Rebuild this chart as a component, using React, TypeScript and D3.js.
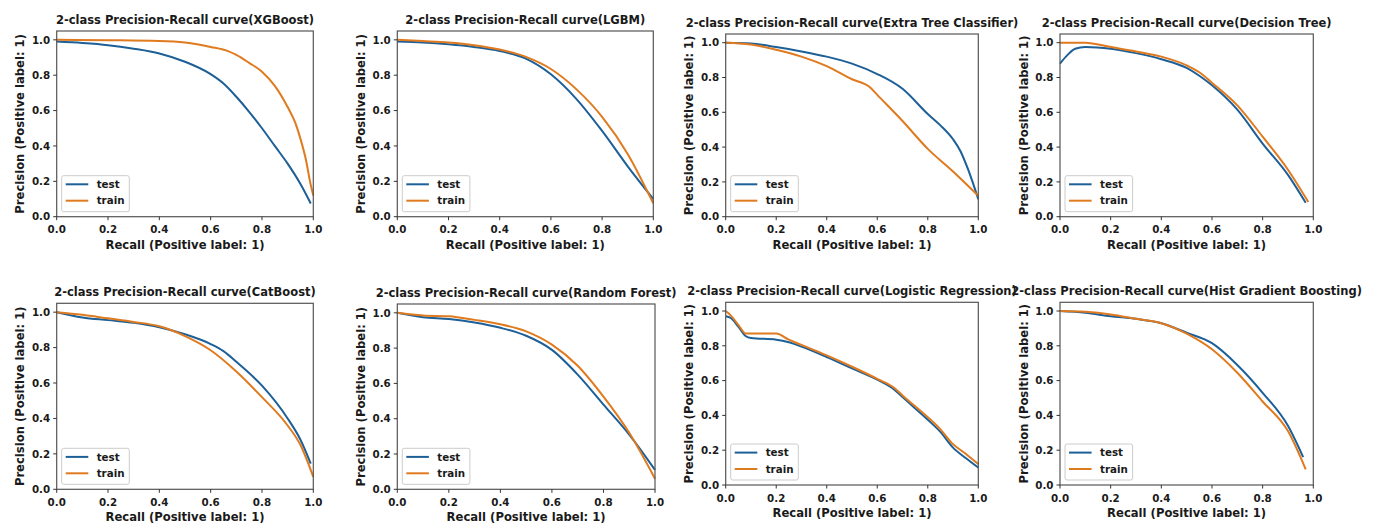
import React from "react";
import * as d3 from "d3";

type Pt = [number, number];

// ---- Data (recall, precision) ----
const modelNames = [
  "XGBoost",
  "LGBM",
  "Extra Tree Classifier",
  "Decision Tree",
  "CatBoost",
  "Random Forest",
  "Logistic Regression",
  "Hist Gradient Boosting",
];

const xgbTest: Pt[] = [[0,0.99],[0.1,0.982],[0.2,0.97],[0.3,0.95],[0.4,0.923],[0.5,0.876],[0.6,0.806],[0.65,0.753],[0.7,0.678],[0.75,0.593],[0.8,0.5],[0.85,0.4],[0.9,0.3],[0.95,0.185],[0.99,0.075]];
const xgbTrain: Pt[] = [[0,1.0],[0.2,0.998],[0.4,0.994],[0.5,0.985],[0.6,0.96],[0.67,0.935],[0.7,0.915],[0.75,0.87],[0.8,0.82],[0.85,0.74],[0.9,0.62],[0.93,0.53],[0.95,0.44],[0.97,0.33],[0.99,0.18],[1.0,0.12]];

const lgbmTest: Pt[] = [[0,0.99],[0.1,0.985],[0.2,0.975],[0.3,0.96],[0.4,0.937],[0.5,0.895],[0.6,0.805],[0.7,0.665],[0.8,0.485],[0.9,0.285],[1.0,0.1]];
const lgbmTrain: Pt[] = [[0,1.0],[0.1,0.993],[0.2,0.985],[0.3,0.97],[0.4,0.945],[0.5,0.905],[0.6,0.835],[0.7,0.72],[0.8,0.565],[0.9,0.355],[1.0,0.075]];

const etTest: Pt[] = [[0,1.0],[0.1,0.995],[0.2,0.975],[0.3,0.95],[0.4,0.92],[0.5,0.88],[0.6,0.82],[0.7,0.735],[0.8,0.59],[0.85,0.525],[0.9,0.445],[0.93,0.375],[0.96,0.27],[1.0,0.1]];
const etTrain: Pt[] = [[0,1.0],[0.1,0.99],[0.2,0.96],[0.3,0.92],[0.4,0.865],[0.5,0.79],[0.57,0.745],[0.6,0.7],[0.7,0.55],[0.8,0.39],[0.9,0.26],[1.0,0.12]];

const dtTest: Pt[] = [[0,0.88],[0.03,0.93],[0.06,0.965],[0.1,0.975],[0.2,0.965],[0.3,0.94],[0.4,0.905],[0.5,0.855],[0.55,0.81],[0.6,0.755],[0.7,0.615],[0.8,0.42],[0.9,0.24],[0.97,0.08]];
const dtTrain: Pt[] = [[0,1.0],[0.1,1.0],[0.2,0.975],[0.3,0.95],[0.4,0.92],[0.5,0.87],[0.55,0.83],[0.6,0.77],[0.7,0.64],[0.8,0.46],[0.9,0.27],[0.98,0.085]];

const cbTest: Pt[] = [[0,1.0],[0.1,0.97],[0.2,0.955],[0.3,0.94],[0.4,0.915],[0.5,0.875],[0.6,0.82],[0.65,0.78],[0.7,0.72],[0.8,0.585],[0.9,0.4],[0.95,0.28],[0.99,0.145]];
const cbTrain: Pt[] = [[0,1.0],[0.1,0.985],[0.2,0.965],[0.3,0.945],[0.4,0.92],[0.5,0.865],[0.6,0.785],[0.7,0.665],[0.8,0.52],[0.9,0.36],[0.95,0.25],[1.0,0.07]];

const rfTest: Pt[] = [[0,1.0],[0.1,0.975],[0.2,0.965],[0.3,0.945],[0.4,0.915],[0.5,0.87],[0.6,0.79],[0.7,0.65],[0.8,0.48],[0.9,0.31],[1.0,0.11]];
const rfTrain: Pt[] = [[0,1.0],[0.1,0.985],[0.2,0.98],[0.3,0.96],[0.4,0.935],[0.5,0.895],[0.6,0.82],[0.7,0.7],[0.8,0.525],[0.9,0.32],[1.0,0.06]];

const lrTest: Pt[] = [[0,0.97],[0.02,0.96],[0.05,0.91],[0.08,0.855],[0.1,0.845],[0.2,0.835],[0.25,0.82],[0.3,0.795],[0.4,0.735],[0.5,0.67],[0.6,0.605],[0.67,0.545],[0.7,0.505],[0.8,0.375],[0.85,0.305],[0.9,0.215],[0.95,0.155],[1.0,0.1]];
const lrTrain: Pt[] = [[0,1.0],[0.02,0.975],[0.05,0.92],[0.08,0.87],[0.1,0.87],[0.2,0.87],[0.25,0.835],[0.3,0.805],[0.4,0.745],[0.5,0.68],[0.6,0.61],[0.67,0.555],[0.7,0.515],[0.8,0.39],[0.85,0.32],[0.9,0.235],[0.95,0.18],[1.0,0.12]];

const hgbTest: Pt[] = [[0,1.0],[0.1,0.99],[0.2,0.97],[0.3,0.955],[0.4,0.93],[0.5,0.875],[0.6,0.815],[0.7,0.69],[0.8,0.53],[0.9,0.34],[0.96,0.16]];
const hgbTrain: Pt[] = [[0,1.0],[0.1,0.995],[0.2,0.98],[0.3,0.955],[0.4,0.93],[0.5,0.87],[0.6,0.78],[0.7,0.645],[0.8,0.48],[0.9,0.31],[0.97,0.09]];

const testSeries = [xgbTest, lgbmTest, etTest, dtTest, cbTest, rfTest, lrTest, hgbTest];
const trainSeries = [xgbTrain, lgbmTrain, etTrain, dtTrain, cbTrain, rfTrain, lrTrain, hgbTrain];
const seriesLabels = ["test", "train"];
const tickValues = [0, 0.2, 0.4, 0.6, 0.8, 1.0];

// ---- Layout (pixel boxes of each axes) ----
const boxes = [
  { l: 56.7, r: 313.3, b: 216.7 },
  { l: 397.3, r: 653.3, b: 216.7 },
  { l: 725.7, r: 978.3, b: 216.7 },
  { l: 1060, r: 1313.3, b: 216.7 },
  { l: 56.7, r: 313.3, b: 489.3 },
  { l: 397.3, r: 655, b: 489.3 },
  { l: 725.7, r: 978.3, b: 485 },
  { l: 1060, r: 1313.3, b: 485 },
];
const tops = [31, 31, 34, 34, 303.3, 304, 302.3, 302.3];

const BLUE = "#1d5f97";
const ORANGE = "#e07a1e";
const FONT = "'DejaVu Sans', sans-serif";
const TXT = "#1a1a1a";
const TICK_FS = 10.3;
const LABEL_FS = 11.6;
const TITLE_FS = 11.5;

function Panel({ i }: { i: number }) {
  const box = boxes[i];
  const top = tops[i];
  const x = d3.scaleLinear().domain([0, 1]).range([box.l, box.r]);
  const y = d3.scaleLinear().domain([0, 1.05]).range([box.b, top]);
  const line = d3
    .line<Pt>()
    .x((d) => x(d[0]))
    .y((d) => y(d[1]))
    .curve(d3.curveMonotoneX);
  const cx = (box.l + box.r) / 2;
  const cy = (box.b + top) / 2;
  const colors = [BLUE, ORANGE];
  const series = [testSeries[i], trainSeries[i]];
  return (
    <g>
      <rect x={box.l} y={top} width={box.r - box.l} height={box.b - top} fill="#fff" />
      {series.map((s, k) => (
        <path key={k} d={line(s) || ""} fill="none" stroke={colors[k]} strokeWidth={2} />
      ))}
      <rect x={box.l} y={top} width={box.r - box.l} height={box.b - top} fill="none" stroke="#555" strokeWidth={1.2} />
      {tickValues.map((t) => (
        <g key={"x" + t}>
          <line x1={x(t)} x2={x(t)} y1={box.b} y2={box.b + 3.5} stroke="#333" strokeWidth={1} />
          <text x={x(t)} y={box.b + 16.5} textAnchor="middle" fontSize={TICK_FS} fontWeight="bold" fontFamily={FONT} fill={TXT}>
            {t.toFixed(1)}
          </text>
        </g>
      ))}
      {tickValues.map((t) => (
        <g key={"y" + t}>
          <line x1={box.l - 3.5} x2={box.l} y1={y(t)} y2={y(t)} stroke="#333" strokeWidth={1} />
          <text x={box.l - 6.5} y={y(t) + 3.7} textAnchor="end" fontSize={TICK_FS} fontWeight="bold" fontFamily={FONT} fill={TXT}>
            {t.toFixed(1)}
          </text>
        </g>
      ))}
      <text x={cx} y={top - 7.5} textAnchor="middle" fontSize={TITLE_FS} fontWeight="bold" fontFamily={FONT} fill={TXT}>
        {`2-class Precision-Recall curve(${modelNames[i]})`}
      </text>
      <text x={cx} y={box.b + 32} textAnchor="middle" fontSize={LABEL_FS} fontWeight="bold" fontFamily={FONT} fill={TXT}>
        Recall (Positive label: 1)
      </text>
      <text
        transform={`translate(${box.l - 32.5},${cy}) rotate(-90)`}
        textAnchor="middle"
        fontSize={LABEL_FS}
        fontWeight="bold"
        fontFamily={FONT}
        fill={TXT}
      >
        Precision (Positive label: 1)
      </text>
      <g transform={`translate(${box.l + 5},${box.b - 41})`}>
        <rect x={0} y={0} width={67.6} height={36} rx={2} fill="#fff" fillOpacity={0.85} stroke="#cccccc" strokeWidth={1} />
        {seriesLabels.map((lab, k) => (
          <g key={lab}>
            <line x1={4} x2={26.6} y1={8.6 + k * 16.4} y2={8.6 + k * 16.4} stroke={colors[k]} strokeWidth={2} />
            <text x={35} y={8.6 + k * 16.4 + 3.7} fontSize={10.3} fontWeight="bold" fontFamily={FONT} fill={TXT}>
              {lab}
            </text>
          </g>
        ))}
      </g>
    </g>
  );
}

export default function App() {
  return (
    <svg width={1374} height={525} style={{ display: "block", position: "absolute", left: 0, top: 0 }}>
      <rect width={1374} height={525} fill="#fff" />
      {modelNames.map((_, i) => (
        <Panel key={i} i={i} />
      ))}
    </svg>
  );
}
